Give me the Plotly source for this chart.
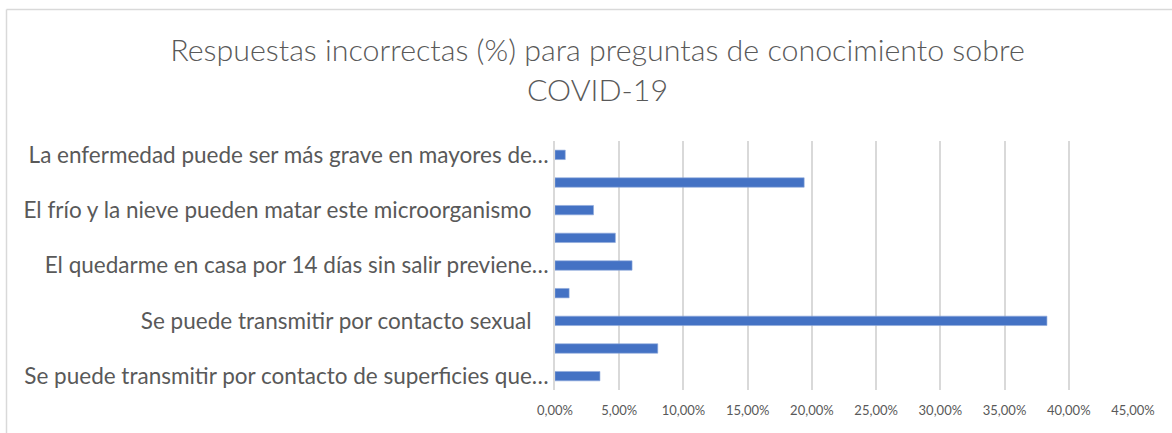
import plotly.graph_objects as go

# Data (top to bottom as shown in the chart)
categories = [
    "La enfermedad puede ser más grave en mayores de…",
    "Pregunta 2",
    "El frío y la nieve pueden matar este microorganismo",
    "Pregunta 4",
    "El quedarme en casa por 14 días sin salir previene…",
    "Pregunta 6",
    "Se puede transmitir por contacto sexual",
    "Pregunta 8",
    "Se puede transmitir por contacto de superficies que…",
]
values = [0.8, 19.4, 3.0, 4.7, 6.0, 1.1, 38.3, 8.0, 3.5]
shown_labels = [categories[0], categories[2], categories[4], categories[6], categories[8]]
x_ticks = [0, 5, 10, 15, 20, 25, 30, 35, 40, 45]

title_text = "Respuestas incorrectas (%) para preguntas de conocimiento sobre<br>COVID-19"

# tick texts (Spanish number format)
x_ticktext = [f"{v:.2f}".replace(".", ",") + "%" for v in x_ticks]
# the two full-length labels carry trailing blanks in the original
y_ticktext = [
    t + ("\u00a0\u00a0\u00a0" if not t.endswith("…") else "") for t in shown_labels
]

W, H = 1172, 433
L, R, T, B = 555, 1172 - 1133, 141, 433 - 390
pw, ph = W - L - R, H - T - B

fig = go.Figure(
    go.Bar(
        x=values,
        y=categories,
        orientation="h",
        marker=dict(color="#4472C4", line=dict(color="#8FAADC", width=0.6)),
        width=0.34,
        hoverinfo="x+y",
    )
)

# outer frame (top and left edges visible in the reference)
fx0 = (6.5 - L) / pw
fx1 = (W + 5 - L) / pw
fy1 = (H - B - 9.5) / ph
fy0 = (H - B - (H + 5)) / ph
frame = dict(color="#D9D9D9", width=1.5)

fig.update_layout(
    width=W,
    height=H,
    margin=dict(l=L, r=R, t=T, b=B, pad=0),
    paper_bgcolor="white",
    plot_bgcolor="white",
    showlegend=False,
    title=dict(
        text=title_text,
        x=(172 + 1023) / 2 / W,
        xanchor="center",
        y=1 - 61 / H,
        yanchor="middle",
        font=dict(family="Lato", size=30.4, color="#595959", weight=300),
    ),
    xaxis=dict(
        range=[0, 45],
        tickmode="array",
        tickvals=x_ticks,
        ticktext=x_ticktext,
        showgrid=True,
        gridcolor="#D9D9D9",
        gridwidth=1.5,
        zeroline=False,
        showline=False,
        ticks="",
        ticklabelstandoff=11,
        tickfont=dict(family="Lato", size=13, color="#595959"),
        fixedrange=True,
    ),
    yaxis=dict(
        type="category",
        categoryorder="array",
        categoryarray=categories[::-1],
        tickmode="array",
        tickvals=shown_labels,
        ticktext=y_ticktext,
        showgrid=False,
        zeroline=False,
        showline=True,
        linecolor="#D9D9D9",
        linewidth=1.5,
        ticks="",
        ticklabelstandoff=0,
        tickfont=dict(family="Lato", size=22.5, color="#595959"),
        fixedrange=True,
    ),
    shapes=[
        dict(type="line", xref="paper", yref="paper",
             x0=fx0, x1=fx1, y0=fy1, y1=fy1, line=frame, layer="below"),
        dict(type="line", xref="paper", yref="paper",
             x0=fx0, x1=fx0, y0=fy0, y1=fy1, line=frame, layer="below"),
    ],
)

fig.write_html(
    "out.html",
    config={"displayModeBar": False},
    post_script="document.body.style.margin='0';document.body.style.padding='0';",
)
